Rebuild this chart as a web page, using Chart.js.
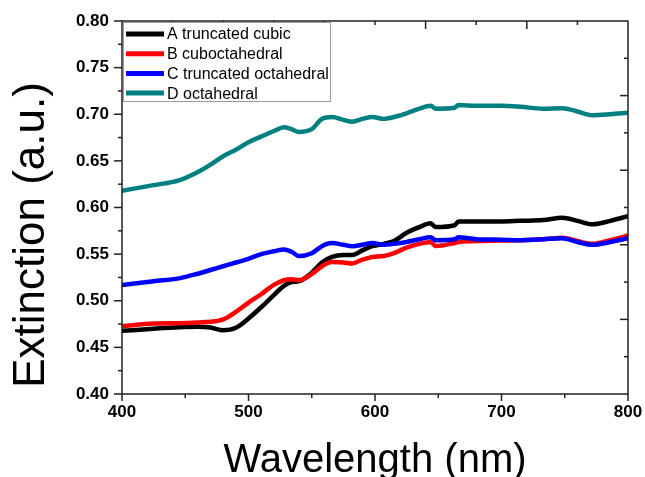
<!DOCTYPE html>
<html>
<head>
<meta charset="utf-8">
<script src="https://cdn.jsdelivr.net/npm/chart.js@4.4.1/dist/chart.umd.min.js"></script>
<style>
  html, body { margin: 0; padding: 0; background: #fff; }
  canvas { display: block; }
</style>
</head>
<body>
<canvas id="extChart" width="645" height="477"></canvas>
<script>
// wavelength grid (nm) shared by all spectra
const wavelength = [400, 425, 445, 460, 470, 480, 490, 500, 510, 520, 528, 534, 540, 550, 558, 566, 575, 582, 590, 598,
                    607, 615, 625, 635, 644, 648, 663, 666, 680, 700, 715, 733, 748, 760, 772, 786, 800];

const extA = [0.4677, 0.470, 0.4715, 0.472, 0.4713, 0.4684, 0.471, 0.481, 0.493, 0.506, 0.516, 0.520, 0.521, 0.530, 0.541, 0.547, 0.549, 0.549, 0.554, 0.5586,
              0.561, 0.564, 0.573, 0.579, 0.583, 0.579, 0.581, 0.585, 0.585, 0.585, 0.5857, 0.5865, 0.589, 0.5857, 0.582, 0.5857, 0.5907];
const extB = [0.4727, 0.4756, 0.476, 0.4767, 0.4774, 0.480, 0.488, 0.498, 0.507, 0.517, 0.522, 0.523, 0.522, 0.5285, 0.537, 0.5415, 0.541, 0.540, 0.544, 0.547,
              0.548, 0.551, 0.557, 0.561, 0.563, 0.5586, 0.562, 0.563, 0.564, 0.5645, 0.565, 0.566, 0.5675, 0.564, 0.561, 0.565, 0.570];
const extC = [0.517, 0.521, 0.524, 0.529, 0.533, 0.537, 0.541, 0.545, 0.550, 0.553, 0.555, 0.5525, 0.548, 0.551, 0.5585, 0.5618, 0.560, 0.5585, 0.560, 0.562,
              0.560, 0.561, 0.563, 0.566, 0.568, 0.565, 0.566, 0.568, 0.566, 0.5655, 0.565, 0.566, 0.567, 0.563, 0.560, 0.563, 0.567];
const extD = [0.618, 0.624, 0.629, 0.638, 0.646, 0.655, 0.662, 0.670, 0.676, 0.682, 0.686, 0.684, 0.681, 0.684, 0.695, 0.697, 0.694, 0.692, 0.695, 0.697,
              0.695, 0.697, 0.701, 0.706, 0.709, 0.706, 0.707, 0.710, 0.709, 0.709, 0.708, 0.706, 0.7065, 0.703, 0.699, 0.700, 0.7015];

const seriesLabels = ['A truncated cubic', 'B cuboctahedral', 'C truncated octahedral', 'D octahedral'];
const seriesColors = ['#000000', '#ff0000', '#0000ff', '#008080'];

const xTicks = [400, 500, 600, 700, 800];
const yTicks = [0.40, 0.45, 0.50, 0.55, 0.60, 0.65, 0.70, 0.75, 0.80];

const FONT = '"Liberation Sans", Arial, sans-serif';

const seriesData = [extA, extB, extC, extD];
const datasets = seriesData.map((vals, i) => ({
    label: seriesLabels[i],
    data: wavelength.map((w, j) => ({ x: w, y: vals[j] })),
    borderColor: seriesColors[i],
    borderWidth: 4.5,
    pointRadius: 0,
    cubicInterpolationMode: 'monotone',
    borderJoinStyle: 'round',
    borderCapStyle: 'round',
    order: 3 - i
}));

function line(ctx, x1, y1, x2, y2) {
    ctx.beginPath();
    ctx.moveTo(x1, y1);
    ctx.lineTo(x2, y2);
    ctx.stroke();
}

// frame, tick marks, axis titles and the boxed legend
const decorations = {
    id: 'decorations',
    afterDraw(chart) {
        const { ctx, chartArea: a, scales: { x, y } } = chart;
        ctx.save();
        ctx.strokeStyle = '#222';
        ctx.lineWidth = 1.5;
        ctx.strokeRect(a.left, a.top, a.right - a.left, a.bottom - a.top);

        // bottom: outward, major 100 / minor 50
        for (let v = 400; v <= 800; v += 50) {
            const px = x.getPixelForValue(v);
            line(ctx, px, a.bottom, px, a.bottom + (v % 100 === 0 ? 7 : 4));
        }
        // top: inward, every 40, longer every 80
        for (let v = 440; v < 800; v += 40) {
            const px = x.getPixelForValue(v);
            line(ctx, px, a.top, px, a.top + ((v - 400) % 80 === 0 ? 8 : 4));
        }
        // left: outward, major 0.05 / minor 0.025
        for (let i = 0; i <= 16; i++) {
            const py = y.getPixelForValue(0.40 + i * 0.025);
            line(ctx, a.left - (i % 2 === 0 ? 8 : 4), py, a.left, py);
        }
        // right: inward, every 0.04, longer every 0.08
        for (let i = 1; i < 10; i++) {
            const py = y.getPixelForValue(0.40 + i * 0.04);
            line(ctx, a.right - (i % 2 === 0 ? 8 : 4), py, a.right, py);
        }

        // axis titles
        ctx.fillStyle = '#000';
        ctx.font = '40px ' + FONT;
        ctx.textAlign = 'center';
        ctx.textBaseline = 'alphabetic';
        ctx.fillText('Wavelength (nm)', (a.left + a.right) / 2, 472);

        ctx.save();
        ctx.translate(44, 235);
        ctx.rotate(-Math.PI / 2);
        ctx.font = '44px ' + FONT;
        ctx.fillText('Extinction (a.u.)', 0, 0);
        ctx.restore();

        // legend
        ctx.fillStyle = '#fff';
        ctx.fillRect(a.left + 1.5, a.top + 1.5, 207, 79);
        ctx.strokeStyle = '#9a9a9a';
        ctx.lineWidth = 1;
        ctx.strokeRect(a.left + 1.5, a.top + 1.5, 207, 79);
        ctx.font = '16px ' + FONT;
        ctx.textAlign = 'left';
        ctx.textBaseline = 'middle';
        chart.data.datasets.forEach((ds, i) => {
            const ly = a.top + 13 + i * 19.7;
            ctx.strokeStyle = ds.borderColor;
            ctx.lineWidth = 5;
            line(ctx, a.left + 4, ly, a.left + 42, ly);
            ctx.fillStyle = '#000';
            ctx.fillText(ds.label, a.left + 45, ly + 1);
        });
        ctx.restore();
    }
};

new Chart(document.getElementById('extChart').getContext('2d'), {
    type: 'line',
    data: { datasets: datasets },
    options: {
        responsive: false,
        animation: false,
        devicePixelRatio: 1,
        layout: { padding: { top: 21, right: 17, left: 0, bottom: 0 } },
        plugins: { legend: { display: false }, tooltip: { enabled: false } },
        scales: {
            x: {
                type: 'linear',
                min: 400,
                max: 800,
                afterBuildTicks: s => { s.ticks = xTicks.map(v => ({ value: v })); },
                afterFit: s => { s.height = 83; s.paddingLeft = 0; s.paddingRight = 0; },
                grid: { display: false, drawTicks: false },
                border: { display: false },
                ticks: {
                    color: '#000', padding: 8, maxRotation: 0, autoSkip: false,
                    font: { family: FONT, size: 17, weight: 'bold' }
                }
            },
            y: {
                type: 'linear',
                min: 0.40,
                max: 0.80,
                afterBuildTicks: s => { s.ticks = yTicks.map(v => ({ value: v })); },
                afterFit: s => { s.width = 122; s.paddingTop = 0; s.paddingBottom = 0; },
                grid: { display: false, drawTicks: false },
                border: { display: false },
                ticks: {
                    color: '#000', padding: 13, autoSkip: false,
                    font: { family: FONT, size: 17, weight: 'bold' },
                    callback: v => v.toFixed(2)
                }
            }
        }
    },
    plugins: [decorations]
});
</script>
</body>
</html>
